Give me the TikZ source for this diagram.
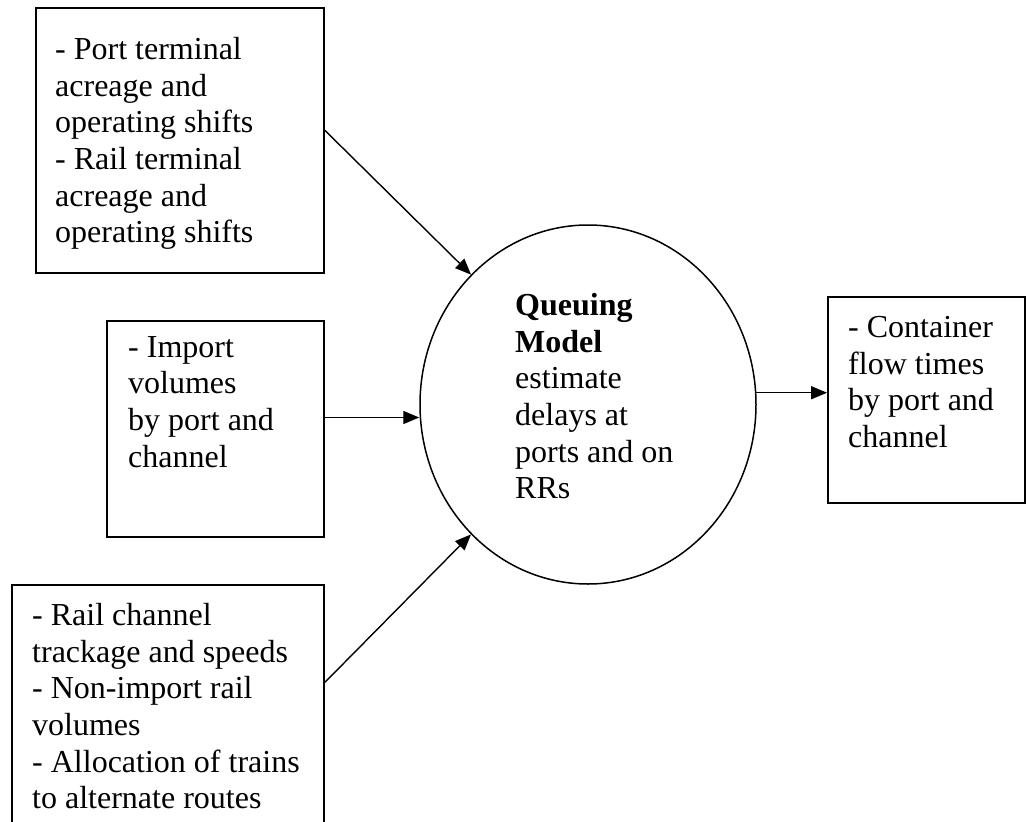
\documentclass[tikz,border=0pt]{standalone}
\usepackage{fontspec}
\setmainfont{Liberation Serif}
\usetikzlibrary{arrows.meta,shapes.geometric}
\begin{document}
\begin{tikzpicture}[x=1pt,y=-1pt,
  box/.style={draw, line width=1.8pt, inner sep=0pt},
  txt/.style={anchor=north west, inner sep=0pt, align=left, font=\fontsize{32}{36.7}\selectfont},
  conn/.style={line width=1.4pt, -{Triangle[length=16pt,width=13pt]}}]
\useasboundingbox (0,0) rectangle (1026,822);
\fill[white] (0,0) rectangle (1026,822);
% boxes
\node[box, minimum width=288pt, minimum height=265pt] (b1) at (180,140.5) {};
\node[box, minimum width=217pt, minimum height=216pt] (b2) at (215.5,429) {};
\node[box, minimum width=312pt, minimum height=250pt] (b3) at (168,710) {};
\node[box, minimum width=197pt, minimum height=206pt] (b4) at (926.5,400) {};
% circle
\node[draw, line width=1.5pt, ellipse, minimum width=336pt, minimum height=359pt, inner sep=0pt] (q) at (588,404.5) {};
% texts
\node[txt] (t1) at (55,37) {- Port terminal\\acreage and\\operating shifts\\- Rail terminal\\acreage and\\operating shifts};
\node[txt] (t2) at (128,336) {- Import\\volumes\\by port and\\channel};
\node[txt] (t3) at (32,603) {- Rail channel\\trackage and speeds\\- Non-import rail\\volumes\\- Allocation of trains\\to alternate routes};
\node[txt] (tq) at (515,293) {\textbf{Queuing}\\\textbf{Model}\\estimate\\delays at\\ports and on\\RRs};
\node[txt] (t4) at (848,316) {- Container\\flow times\\by port and\\channel};
% connectors
\draw[conn] (b1.4) -- (q.132);
\draw[conn] (b2.6) -- (b2.6 -| q.west);
\draw[conn] (b3.10) -- (q.228);
\draw[conn] (q.4) -- (q.4 -| b4.west);
\end{tikzpicture}
\end{document}
